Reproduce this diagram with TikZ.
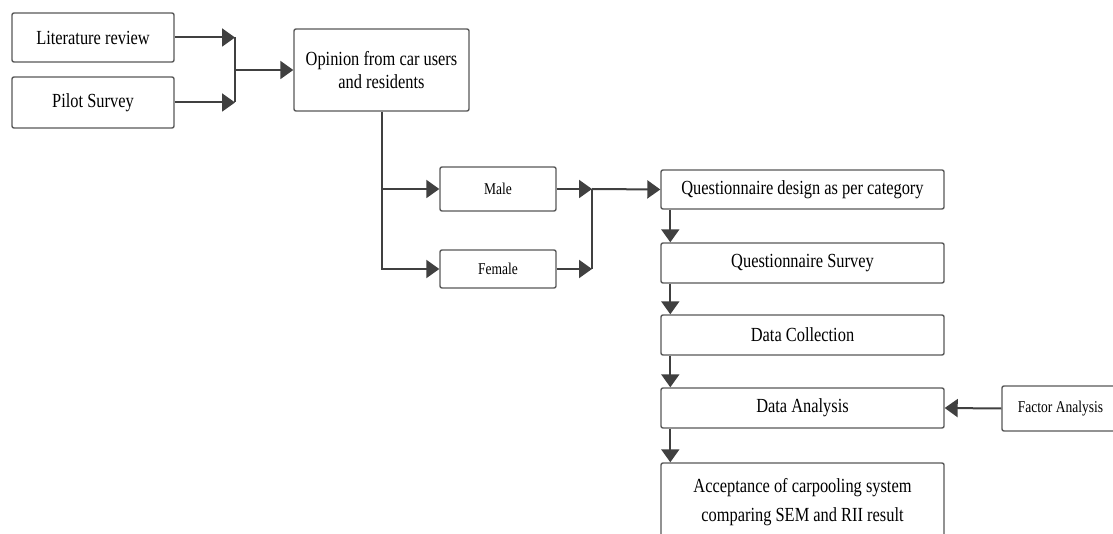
\documentclass[tikz,border=0pt]{standalone}
\usepackage{fontspec}
\setmainfont{Liberation Serif}[FakeStretch=0.82]
\usetikzlibrary{arrows.meta}
\begin{document}
\begin{tikzpicture}[x=1pt,y=1pt,
  box/.style={draw=black!65,line width=1.4pt,rounded corners=2pt,fill=white,inner sep=2pt,align=center,font=\fontsize{20}{23}\selectfont},
  sbox/.style={box,font=\fontsize{16.5}{19}\selectfont},
  ln/.style={draw=black!75,line width=2pt},
  arr/.style={ln,-{Triangle[length=13pt,width=18pt]}}]
\useasboundingbox (0,0) rectangle (1113,-534);
\clip (0,0) rectangle (1113,-534);
\fill[white] (0,0) rectangle (1113,-534);
\node[box,minimum width=162,minimum height=49] (lit) at (93,-37.5) {Literature review};
\node[box,minimum width=162,minimum height=51] (pilot) at (93,-102.5) {Pilot Survey};
\node[box,minimum width=175,minimum height=82] (op) at (381.5,-70) {Opinion from car users\\and residents};
\node[sbox,minimum width=116,minimum height=44] (male) at (498,-189) {Male};
\node[sbox,minimum width=116,minimum height=38] (female) at (498,-269) {Female};
\node[box,minimum width=283,minimum height=39] (qd) at (802.5,-189.5) {Questionnaire design as per category};
\node[box,minimum width=283,minimum height=40] (qs) at (802.5,-263) {Questionnaire Survey};
\node[box,minimum width=283,minimum height=40] (dc) at (802.5,-335) {Data Collection};
\node[box,minimum width=283,minimum height=40] (da) at (802.5,-408) {Data Analysis};
\node[box,minimum width=283,minimum height=78,font=\fontsize{20}{29}\selectfont] (acc) at (802.5,-502) {Acceptance of carpooling system\\comparing SEM and RII result};
\node[sbox,minimum width=123,minimum height=45] (fa) at (1063.5,-408.5) {\hspace*{-6pt}Factor Analysis};
\coordinate (j1) at (235,-70);
\draw[arr] (lit.east) -- (lit.east -| j1);
\draw[arr] (pilot.east) -- (pilot.east -| j1);
\draw[ln] (j1 |- lit.east) -- (j1 |- pilot.east);
\draw[arr] (j1) -- (op.west);
\draw[arr] (op.south) |- (female.west);
\draw[arr] (op.south |- male.west) -- (male.west);
\coordinate (j2) at (592,-189);
\draw[arr] (male.east) -- (j2);
\draw[arr] (female.east) -- (female.east -| j2);
\draw[ln] (j2) -- (j2 |- female.east);
\draw[arr] (j2) -- (qd.west);
\draw[arr] ([xshift=10pt]qd.south west) -- ([xshift=10pt]qs.north west);
\draw[arr] ([xshift=10pt]qs.south west) -- ([xshift=10pt]dc.north west);
\draw[arr] ([xshift=10pt]dc.south west) -- ([xshift=10pt]da.north west);
\draw[arr] ([xshift=10pt]da.south west) -- ([xshift=10pt]acc.north west);
\draw[arr] (fa.west) -- (da.east);
\end{tikzpicture}
\end{document}
